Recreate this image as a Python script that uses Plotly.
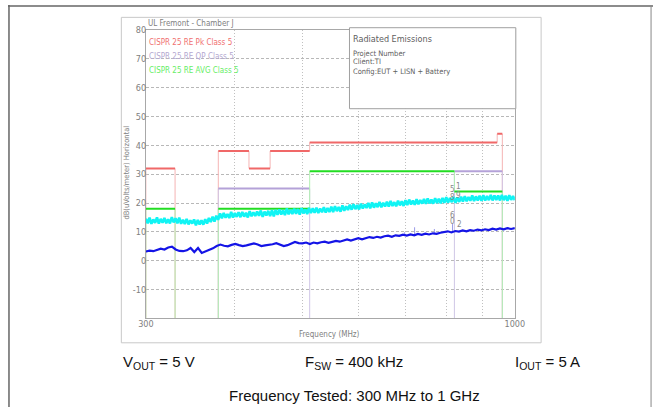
import numpy as np
import plotly.graph_objects as go

# CISPR 25 class 5 limit bands (MHz, dBuV/m)
pk_start = [300, 380, 420, 450, 512, 944]
pk_stop = [330, 420, 450, 512, 944, 960]
pk_level = [32, 38, 32, 38, 41, 44]

qp_start = [380, 821]
qp_stop = [512, 960]
qp_level = [25, 31]

avg_start = [300, 380, 512, 821]
avg_stop = [330, 512, 821, 960]
avg_level = [18, 18, 31, 24]

# horizontal (cyan) peak sweep, 200 log-spaced points 300..1000 MHz
horiz_pk = [
    14.6, 13.0, 14.9, 12.8, 14.3, 13.1, 15.0, 12.9, 14.5, 13.2,
    14.8, 13.0, 14.4, 12.9, 15.1, 13.3, 14.7, 13.0, 14.9, 12.8,
    14.2, 12.7, 14.5, 12.6, 14.0, 12.9, 14.3, 12.3, 14.1, 12.6,
    14.0, 12.5, 14.4, 12.9, 14.8, 13.4, 15.3, 13.6, 15.6, 14.2,
    16.4, 14.7, 16.6, 14.9, 16.2, 14.8, 16.9, 15.0, 16.5, 15.2,
    16.8, 15.1, 16.9, 15.3, 16.6, 15.0, 17.2, 15.4, 16.8, 15.5,
    17.1, 15.6, 17.4, 15.2, 17.0, 15.7, 17.3, 15.5, 17.5, 15.4,
    17.6, 15.9, 17.8, 16.0, 17.5, 15.8, 18.1, 16.1, 17.7, 16.2,
    18.0, 16.3, 17.9, 16.0, 18.2, 16.4, 17.8, 16.2, 18.3, 16.5,
    18.2, 16.6, 18.4, 16.5, 18.1, 16.8, 18.6, 16.7, 18.3, 16.9,
    18.7, 16.9, 18.9, 17.2, 18.6, 17.0, 19.2, 17.3, 18.9, 17.6,
    19.4, 17.7, 19.6, 17.9, 19.3, 17.8, 19.8, 18.1, 19.5, 18.3,
    20.0, 18.2, 20.2, 18.4, 19.9, 18.6, 20.4, 18.5, 20.1, 18.8,
    20.5, 18.8, 20.7, 19.0, 20.3, 18.9, 20.8, 19.2, 20.6, 19.0,
    21.0, 19.3, 21.2, 19.5, 20.9, 19.4, 21.3, 19.6, 21.0, 19.8,
    21.4, 19.7, 21.6, 19.9, 21.2, 19.8, 21.7, 20.0, 21.5, 19.9,
    21.8, 20.1, 22.0, 20.2, 21.7, 20.3, 22.1, 20.1, 21.9, 20.4,
    22.2, 20.5, 22.4, 20.6, 22.1, 20.8, 22.6, 20.7, 22.3, 20.9,
    22.5, 20.8, 22.7, 20.9, 22.4, 21.0, 22.8, 20.9, 22.6, 21.1,
    22.6, 20.9, 22.8, 21.0, 22.5, 20.8, 22.7, 21.1, 22.4, 21.0,
]

# horizontal (blue) average sweep, 100 log-spaced points
horiz_avg = [
    3.2, 3.5, 3.3, 3.8, 4.2, 3.9, 4.6, 4.9, 3.9, 3.4,
    3.3, 3.6, 4.4, 3.0, 4.4, 2.7, 3.2, 3.7, 4.3, 5.1,
    5.6, 5.2, 5.0, 5.5, 5.8, 5.4, 5.1, 5.3, 5.7, 6.0,
    5.6, 5.1, 5.3, 5.4, 5.7, 6.1, 5.6, 5.1, 5.4, 6.0,
    6.5, 6.1, 6.0, 6.3, 5.8, 6.3, 6.0, 6.4, 6.6, 6.2,
    6.5, 6.9, 6.6, 7.1, 7.4, 7.0, 7.5, 7.8, 7.4, 7.9,
    8.2, 7.9, 8.3, 8.0, 8.5, 8.7, 8.3, 8.8, 8.6, 9.0,
    8.7, 9.1, 8.8, 9.3, 9.0, 9.4, 9.1, 9.5, 9.3, 9.7,
    9.9, 10.2, 9.8, 10.3, 10.1, 10.5, 10.2, 10.6, 10.4, 10.8,
    10.5, 10.9, 10.6, 11.1, 10.8, 11.2, 10.9, 11.3, 11.0, 11.3,
]

# marker stems on the average sweep
mk_freq = [698, 721, 769, 816]
mk_base = [8.6, 8.9, 9.3, 10.0]
mk_top = [9.9, 11.6, 11.0, 12.7]

x_ticks = [300, 400, 500, 600, 700, 800, 900, 1000]
x_ticktext = ["300", "", "", "", "", "", "", "1000"]
y_ticks = [-20, -10, 0, 10, 20, 30, 40, 50, 60, 70, 80]
y_ticktext = ["", "-10", "0", "10", "20", "30", "40", "50", "60", "70", "80"]

W, H = 663, 407
BOTTOM = -20
NARROW = "Liberation Sans Narrow, DejaVu Sans Condensed, Arial Narrow, sans-serif"


def px(x):
    return x / W


def py(y):
    return 1 - y / H


def limit_paths(starts, stops, levels):
    hx, hy, vx, vy = [], [], [], []
    n = len(starts)
    for i in range(n):
        f0, f1, lv = starts[i], stops[i], levels[i]
        hx += [f0, f1, None]
        hy += [lv, lv, None]
        if i == 0 or stops[i - 1] != f0:
            vx += [f0, f0, None]
            vy += [BOTTOM, lv, None]
        else:
            vx += [f0, f0, None]
            vy += [levels[i - 1], lv, None]
        if i == n - 1 or starts[i + 1] != f1:
            vx += [f1, f1, None]
            vy += [lv, BOTTOM, None]
    return hx, hy, vx, vy


fig = go.Figure()

limits = [
    (pk_start, pk_stop, pk_level, "#f06868", "#f5b4b4"),
    (qp_start, qp_stop, qp_level, "#b4a2d8", "#cfc6e6"),
    (avg_start, avg_stop, avg_level, "#22dd22", "#b2f0b2"),
]
for starts, stops, levels, hcol, vcol in limits:
    hx, hy, vx, vy = limit_paths(starts, stops, levels)
    fig.add_trace(go.Scatter(x=vx, y=vy, mode="lines", line=dict(color=vcol, width=1),
                             showlegend=False, hoverinfo="skip"))
    fig.add_trace(go.Scatter(x=hx, y=hy, mode="lines", line=dict(color=hcol, width=2),
                             showlegend=False, hoverinfo="skip"))

f_pk = np.geomspace(300, 1000, len(horiz_pk))
f_avg = np.geomspace(300, 1000, len(horiz_avg))

fig.add_trace(go.Scatter(x=f_pk, y=horiz_pk, mode="lines", line=dict(color="#10f4f4", width=2.6),
                         showlegend=False))

sx, sy = [], []
for f, b, t in zip(mk_freq, mk_base, mk_top):
    sx += [f, f, None]
    sy += [b, t, None]
fig.add_trace(go.Scatter(x=sx, y=sy, mode="lines", line=dict(color="#9a9ae8", width=1),
                         showlegend=False, hoverinfo="skip"))

fig.add_trace(go.Scatter(x=f_avg, y=horiz_avg, mode="lines", line=dict(color="#1414e6", width=2.2),
                         showlegend=False))

tick_font = dict(family=NARROW, size=9, color="#808080")

fig.update_xaxes(type="log", range=[np.log10(300), 3], domain=[px(141.7), px(521)],
                 tickvals=x_ticks, ticktext=x_ticktext, tickfont=tick_font, ticks="",
                 showgrid=True, gridcolor="#c0c0c0", griddash="1px,2px", gridwidth=1,
                 showline=True, linecolor="#a8a8a8", linewidth=1, mirror=True,
                 zeroline=False, ticklabelstandoff=-3)
fig.update_yaxes(range=[-20, 80], domain=[py(317.3), py(25.3)],
                 tickvals=y_ticks, ticktext=y_ticktext, tickfont=tick_font, ticks="",
                 showgrid=True, gridcolor="#b8b8b8", griddash="3px,2px", gridwidth=1,
                 showline=True, linecolor="#a8a8a8", linewidth=1, mirror=True,
                 zeroline=False, ticklabelstandoff=-3)

shapes = [
    # outer frame
    dict(type="line", xref="paper", yref="paper", x0=px(1), x1=px(1), y0=0, y1=1,
         line=dict(color="#666666", width=1.5)),
    dict(type="line", xref="paper", yref="paper", x0=0, x1=1, y0=py(1), y1=py(1),
         line=dict(color="#666666", width=1.5)),
    dict(type="line", xref="paper", yref="paper", x0=px(661), x1=px(661), y0=0, y1=1,
         line=dict(color="#888888", width=1)),
    # scanned chart frame
    dict(type="rect", xref="paper", yref="paper", x0=px(116.5), x1=px(548), y0=py(342), y1=py(12.5),
         line=dict(color="#c8c8c8", width=1), layer="below"),
    # info box
    dict(type="rect", xref="paper", yref="paper", x0=px(351), x1=px(522), y0=py(105), y1=py(23),
         line=dict(color="#a0a0a0", width=1), fillcolor="white", layer="above"),
]


def note(text, x, y, color, size=8, family=NARROW, xanchor="left", angle=0):
    return dict(text=text, xref="paper", yref="paper", x=px(x), y=py(y), showarrow=False,
                xanchor=xanchor, yanchor="middle", textangle=angle,
                font=dict(family=family, size=size, color=color))


annotations = [
    note("UL Fremont - Chamber J", 141.5, 19, "#808080"),
    note("CISPR 25 RE Pk Class 5", 142.5, 38.3, "#f07070"),
    note("CISPR 25 RE QP Class 5", 142.5, 51.7, "#b4a8d0"),
    note("CISPR 25 RE AVG Class 5", 142.5, 66.7, "#66ee66"),
    note("Radiated Emissions", 352.5, 34.3, "#606060", size=9),
    note("Project Number", 352.5, 49, "#606060", size=7.5),
    note("Client:TI", 352.5, 57.5, "#606060", size=7.5),
    note("Config:EUT + LISN + Battery", 352.5, 67.5, "#606060", size=7.5),
    note("Frequency (MHz)", 330, 334, "#808080", xanchor="center"),
    note("dB(uVolts/meter) Horizontal", 122, 170, "#808080", size=7.5, xanchor="center", angle=-90),
]

# marker numbers beside the sweeps
for t, x, y in [("5", 456.5, 187), ("1", 463.5, 184), ("8", 456.5, 195), ("9", 463.5, 192.5),
                ("6", 456.5, 213), ("0", 456.5, 219.5), ("2", 464, 222)]:
    annotations.append(note(t, x, y, "#888888", size=8, xanchor="center"))

big = "Liberation Sans, Arial, sans-serif"
annotations += [
    note("V<sub>OUT</sub> = 5 V", 116, 362, "#111111", size=15, family=big),
    note("F<sub>SW</sub> = 400 kHz", 303, 362, "#111111", size=15, family=big),
    note("I<sub>OUT</sub> = 5 A", 519, 362, "#111111", size=15, family=big),
    note("Frequency Tested: 300 MHz to 1 GHz", 356, 395, "#111111", size=15, family=big,
         xanchor="center"),
]

fig.update_layout(width=W, height=H, margin=dict(l=0, r=0, t=0, b=0),
                  paper_bgcolor="white", plot_bgcolor="white",
                  shapes=shapes, annotations=annotations, showlegend=False)

# drop the default page margin so the figure sits at the window's corner
fig.write_html("out.html", config={"displayModeBar": False},
               post_script="document.body.style.margin='0';document.body.style.overflow='hidden';")
